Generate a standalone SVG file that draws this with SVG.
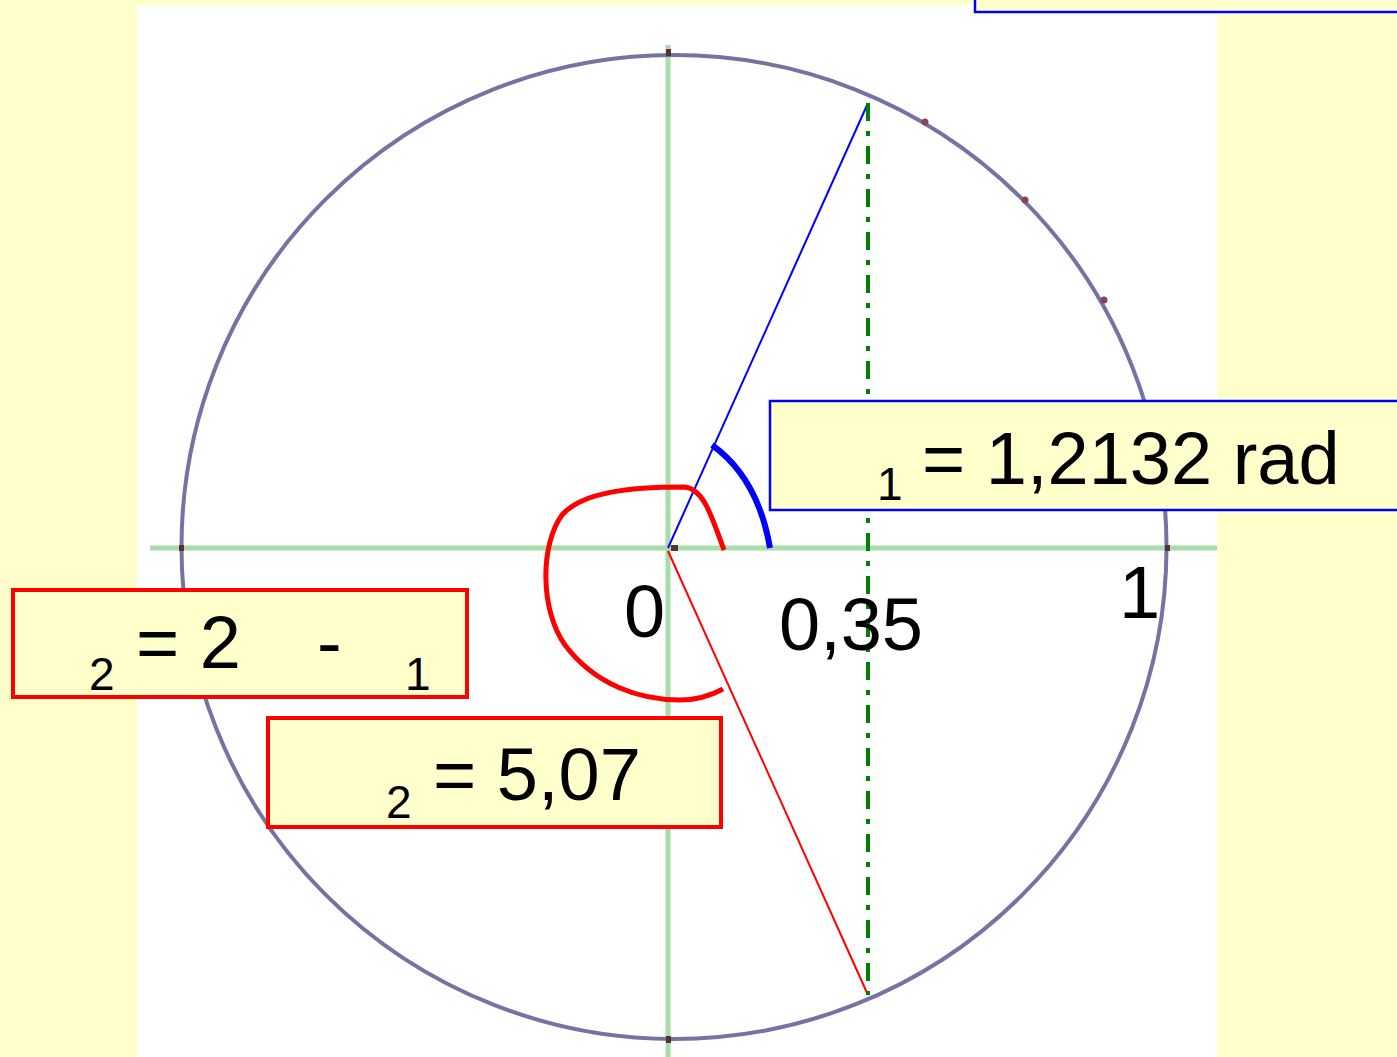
<svg xmlns="http://www.w3.org/2000/svg" width="1397" height="1057" viewBox="0 0 1397 1057">
<style>
text{font-family:"Liberation Sans",Arial,sans-serif;fill:#000}
.big{font-size:74px}
.sub{font-size:46px}
.box{fill:#FFFFCC}
.blue{stroke:#0000FF;stroke-width:2.5}
.red{stroke:#FF0000;stroke-width:4}
.axis{stroke:#A8DCA8;stroke-width:5}
.tick{fill:#553333}
</style>
<rect x="0" y="0" width="1397" height="1057" fill="#FFFFCC"/>
<rect x="137" y="5" width="1080" height="1052" fill="#FFFFFF"/>
<g id="axes">
<line class="axis" x1="150" y1="548" x2="1217" y2="548"/>
<line class="axis" x1="668" y1="45" x2="668" y2="1057"/>
</g>
<g id="circle">
<ellipse cx="674" cy="547" rx="492.5" ry="492" fill="none" stroke="#7474A4" stroke-width="4"/>
<rect class="tick" x="666" y="49" width="5" height="7"/>
<rect class="tick" x="666" y="1036" width="5" height="7"/>
<rect class="tick" x="179" y="545" width="5" height="6"/>
<rect class="tick" x="1165" y="545" width="5" height="6"/>
<rect class="tick" x="671" y="545" width="7" height="6"/>
<circle cx="925" cy="122" r="3.5" fill="#884455"/>
<circle cx="1025" cy="200" r="3.5" fill="#884455"/>
<circle cx="1104" cy="300" r="3.5" fill="#884455"/>
</g>
<g id="connectors">
<line x1="668" y1="548" x2="868" y2="103" stroke="#0000FF" stroke-width="2"/>
<line x1="668" y1="551" x2="868" y2="995" stroke="#FF0000" stroke-width="2"/>
<line x1="868" y1="103" x2="868" y2="995" stroke="#008000" stroke-width="4" stroke-dasharray="18 10 5 10"/>
<path d="M712,445 Q758,478 770,548" fill="none" stroke="#0000FF" stroke-width="6"/>
<path d="M724,550 C712,518 704,488 684,487 C630,487 582,492 562,515 C540,545 540,610 565,645 C595,685 640,700 680,700 C698,700 712,695 723,689" fill="none" stroke="#FF0000" stroke-width="5"/>
</g>
<g id="labels">
<text class="big" x="624" y="637">0</text>
<text class="big" x="779" y="650">0,35</text>
<text class="big" x="1119" y="618">1</text>
</g>
<g id="top-box">
<rect class="box blue" x="975" y="-10" width="430" height="22"/>
</g>
<g id="theta1-box">
<rect class="box blue" x="770" y="401" width="640" height="109"/>
<text class="sub" x="877" y="500">1</text>
<text class="big" x="922" y="484">= 1,2132 rad</text>
</g>
<g id="theta2-formula-box">
<rect class="box red" x="13" y="590" width="454" height="107"/>
<text class="sub" x="89" y="690">2</text>
<text class="big" x="136" y="668">= 2</text>
<text class="big" x="317" y="668">-</text>
<text class="sub" x="405" y="690">1</text>
</g>
<g id="theta2-value-box">
<rect class="box red" x="268" y="718" width="453" height="109"/>
<text class="sub" x="386" y="818">2</text>
<text class="big" x="433" y="800">= 5,07</text>
</g>
</svg>
